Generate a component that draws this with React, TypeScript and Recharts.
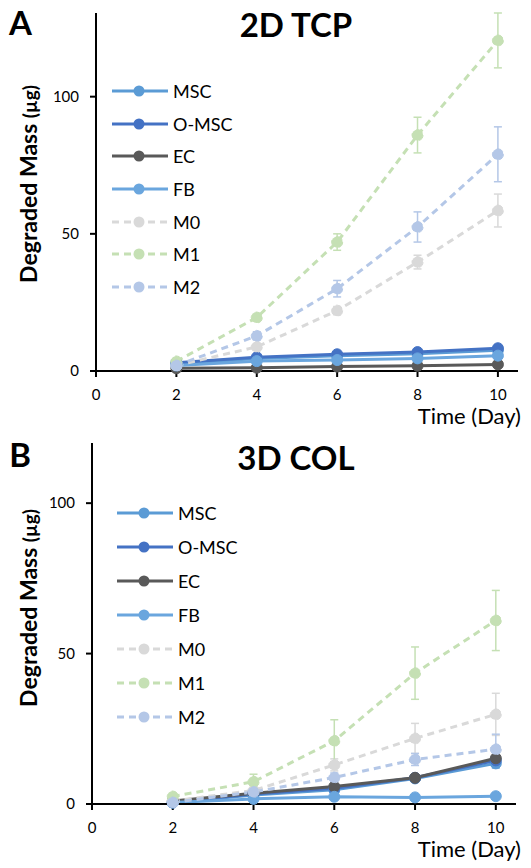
import React from 'react';
import { LineChart, Line, XAxis, YAxis, Legend, ErrorBar, Label } from 'recharts';

// sampling days (x axis)
const days = [2, 4, 6, 8, 10];
const xTicks = [0, 2, 4, 6, 8, 10];
const yTicks = [0, 50, 100];

// A: 2D TCP
const tcpMSC = [2.5, 4.6, 5.6, 6.3, 7.6];
const tcpOMSC = [3, 5, 6.1, 6.9, 8.3];
const tcpEC = [1, 1.2, 1.6, 1.9, 2.4];
const tcpFB = [2, 3.6, 4, 4.6, 5.6];
const tcpM0 = [2, 8.8, 22, 39.7, 58.5];
const tcpM1 = [3.5, 19.5, 47, 86, 120.5];
const tcpM2 = [2, 12.8, 30, 52.5, 79];
const tcpM0Err = [0.5, 1, 1.5, 2.5, 6];
const tcpM1Err = [0.5, 1, 3, 6.5, 10];
const tcpM2Err = [0.5, 1.5, 3, 5.5, 10];

// B: 3D COL
const colMSC = [0.5, 3, 4.7, 8.5, 13.5];
const colOMSC = [0.5, 3.3, 5.2, 8.7, 14.5];
const colEC = [1, 3.6, 5.8, 8.7, 15.2];
const colFB = [0.5, 1.7, 2.4, 2.2, 2.6];
const colM0 = [1, 4.5, 13, 21.8, 29.8];
const colM1 = [2.5, 7.4, 21, 43.5, 61];
const colM2 = [0.5, 4, 8.8, 14.8, 18.2];
const colMSCErr = [0.2, 0.5, 0.5, 0.8, 1.5];
const colM0Err = [0.3, 1, 2, 5, 7];
const colM1Err = [0.5, 2.5, 7, 8.7, 10];
const colM2Err = [0.3, 1, 1.5, 2, 5];

const series = [
  { key: 'MSC', name: 'MSC', color: '#5b9bd5', dashed: false },
  { key: 'OMSC', name: 'O-MSC', color: '#4472c4', dashed: false },
  { key: 'EC', name: 'EC', color: '#595959', dashed: false },
  { key: 'FB', name: 'FB', color: '#6aa6de', dashed: false },
  { key: 'M0', name: 'M0', color: '#d9d9d9', dashed: true },
  { key: 'M1', name: 'M1', color: '#c5e0b4', dashed: true },
  { key: 'M2', name: 'M2', color: '#b4c7e7', dashed: true },
];

const buildRows = (vals: Record<string, number[]>, errs: Record<string, number[]>) =>
  days.map((day, i) => {
    const row: Record<string, number> = { day };
    Object.keys(vals).forEach((k) => (row[k] = vals[k][i]));
    Object.keys(errs).forEach((k) => (row[k + 'Err'] = errs[k][i]));
    return row;
  });

const tcpRows = buildRows(
  { MSC: tcpMSC, OMSC: tcpOMSC, EC: tcpEC, FB: tcpFB, M0: tcpM0, M1: tcpM1, M2: tcpM2 },
  { M0: tcpM0Err, M1: tcpM1Err, M2: tcpM2Err }
);
const colRows = buildRows(
  { MSC: colMSC, OMSC: colOMSC, EC: colEC, FB: colFB, M0: colM0, M1: colM1, M2: colM2 },
  { MSC: colMSCErr, OMSC: colMSCErr, M0: colM0Err, M1: colM1Err, M2: colM2Err }
);

const FONT = 'Lato, "Open Sans", sans-serif';

interface PanelProps {
  rows: Record<string, number>[];
  errKeys: string[];
  height: number;
  xAxisHeight: number;
  yMax: number;
  plotLeft: number;
  marginRight: number;
  legendLeft: number;
  legendTop: number;
  legendRow: number;
  yLabelMid: number;
}

const Panel: React.FC<PanelProps> = ({
  rows, errKeys, height, xAxisHeight, yMax, plotLeft, marginRight, legendLeft, legendTop, legendRow, yLabelMid,
}) => {
  const renderLegend = () => (
    <div style={{ fontFamily: FONT, fontSize: 18, color: '#000', whiteSpace: 'nowrap' }}>
      {series.map((s) => (
        <div key={s.key} style={{ height: legendRow, display: 'flex', alignItems: 'center' }}>
          <svg width={56} height={14} style={{ flexShrink: 0 }}>
            <line
              x1={0} y1={7} x2={56} y2={7}
              stroke={s.color} strokeWidth={3}
              strokeDasharray={s.dashed ? '7 5' : undefined}
            />
            <circle cx={27} cy={7} r={5.5} fill={s.color} />
          </svg>
          <span style={{ marginLeft: 5 }}>{s.name}</span>
        </div>
      ))}
    </div>
  );

  return (
    <LineChart
      width={531}
      height={height}
      data={rows}
      margin={{ top: 13, right: marginRight, left: 0, bottom: 0 }}
    >
      <XAxis
        dataKey="day"
        type="number"
        domain={[0, 10.5]}
        ticks={xTicks}
        allowDataOverflow
        stroke="#000"
        strokeWidth={2}
        tickSize={6}
        tickMargin={12}
        height={xAxisHeight}
        tick={{ fill: '#000', fontSize: 15, fontFamily: FONT }}
      >
        <Label
          content={(props: any) => {
            const vb = props.viewBox || { y: 0 };
            return (
              <text x={521} y={vb.y + 53} textAnchor="end" fontFamily={FONT} fontSize={22} fill="#000">
                Time (Day)
              </text>
            );
          }}
        />
      </XAxis>
      <YAxis
        type="number"
        domain={[0, yMax]}
        ticks={yTicks}
        width={plotLeft}
        stroke="#000"
        strokeWidth={2}
        tickSize={6}
        tickMargin={11}
        tick={{ fill: '#000', fontSize: 15, fontFamily: FONT }}
      >
        <Label
          content={() => (
            <text
              x={37}
              y={yLabelMid}
              transform={`rotate(-90, 37, ${yLabelMid})`}
              textAnchor="middle"
              fontFamily={FONT}
              fontWeight="bold"
              fill="#000"
            >
              <tspan fontSize={23}>Degraded Mass </tspan>
              <tspan fontSize={19}>(µg)</tspan>
            </text>
          )}
        />
      </YAxis>
      <Legend
        layout="vertical"
        align="center"
        verticalAlign="middle"
        content={renderLegend}
        wrapperStyle={{ left: legendLeft, top: legendTop, width: 170 }}
      />
      {series.map((s) => (
        <Line
          key={s.key}
          dataKey={s.key}
          name={s.name}
          type="linear"
          stroke={s.color}
          strokeWidth={3}
          strokeDasharray={s.dashed ? '7 5' : undefined}
          dot={{ r: 5.5, fill: s.color, stroke: s.color, strokeWidth: 1 }}
          activeDot={false}
          isAnimationActive={false}
        >
          {errKeys.includes(s.key) && (
            <ErrorBar dataKey={s.key + 'Err'} direction="y" width={4} stroke={s.color} strokeWidth={1.5} />
          )}
        </Line>
      ))}
    </LineChart>
  );
};

export default function App() {
  return (
    <div style={{ position: 'absolute', left: 0, top: 0, width: 531, height: 868, background: '#fff' }}>
      <div style={{ position: 'absolute', left: 0, top: 0 }}>
        <Panel
          rows={tcpRows}
          errKeys={['M0', 'M1', 'M2']}
          height={434}
          xAxisHeight={63}
          yMax={130}
          plotLeft={96}
          marginRight={13}
          legendLeft={112}
          legendTop={75}
          legendRow={32.6}
          yLabelMid={184}
        />
      </div>
      <div style={{ position: 'absolute', left: 0, top: 430 }}>
        <Panel
          rows={colRows}
          errKeys={['MSC', 'OMSC', 'M0', 'M1', 'M2']}
          height={438}
          xAxisHeight={64}
          yMax={120}
          plotLeft={92}
          marginRight={15}
          legendLeft={117}
          legendTop={66}
          legendRow={34}
          yLabelMid={178}
        />
      </div>
      <svg
        width={531}
        height={868}
        style={{ position: 'absolute', left: 0, top: 0, pointerEvents: 'none' }}
      >
        <g fontFamily={FONT} fontWeight="bold" fill="#000">
          <text x={20.5} y={35} fontSize={33} textAnchor="middle">A</text>
          <text x={296} y={37} fontSize={33} textAnchor="middle">2D TCP</text>
          <text x={20} y={467} fontSize={33} textAnchor="middle">B</text>
          <text x={296} y={470} fontSize={33} textAnchor="middle">3D COL</text>
        </g>
      </svg>
    </div>
  );
}
